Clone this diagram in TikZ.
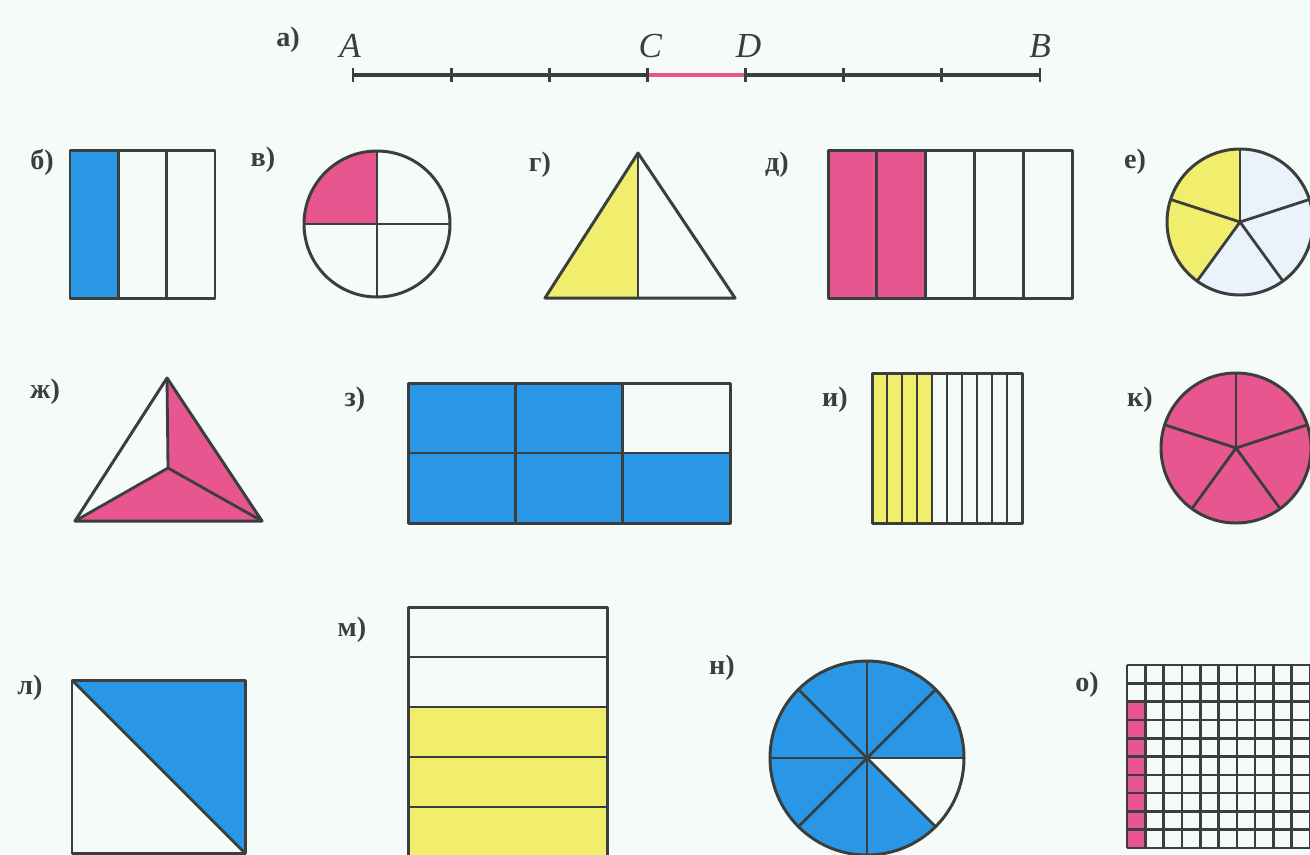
\documentclass[tikz,border=0pt]{standalone}
\usepackage{fontspec}
\setmainfont{Liberation Serif}
\usepackage{tikz}
\usetikzlibrary{calc}
\definecolor{paper}{HTML}{F4FBF8}
\definecolor{figblue}{HTML}{2A97E6}
\definecolor{figpink}{HTML}{E8568F}
\definecolor{figyellow}{HTML}{F1EE6E}
\definecolor{palecell}{HTML}{EAF2FB}
\definecolor{edge}{HTML}{3A3F3E}

\begin{document}
\begin{tikzpicture}[x=0.01cm, y=0.01cm,
  outline/.style={draw=edge, line width=0.85pt, line join=round},
  divide/.style={draw=edge, line width=0.8pt},
  gridline/.style={draw=edge, line width=0.75pt},
  tag/.style={font=\footnotesize\bfseries, text=edge, inner sep=0pt},
  letter/.style={font=\normalsize\itshape, text=edge, inner sep=0pt},
]
  \fill[paper] (0,0) rectangle (1310,-854);
  \clip (0,0) rectangle (1310,-854);

  % a) segment
  \node[tag] (ta) at (288,-40) {а)};
  \coordinate (A) at (353,-75);
  \coordinate (B) at (1040,-75);
  \coordinate (C) at ($(A)!3/7!(B)$);
  \coordinate (D) at ($(A)!4/7!(B)$);
  \draw[divide, line width=1.1pt] (A) -- (B);
  \draw[figpink, line width=1.3pt] (C) -- (D);
  \foreach \k in {0,...,7}
    \draw[divide] ($(A)!\k/7!(B)+(0,7)$) -- ($(A)!\k/7!(B)-(0,7)$);
  \node[letter] (lA) at (350,-46) {A};
  \node[letter] (lC) at ($(C)+(3,29)$) {C};
  \node[letter] (lD) at ($(D)+(3,29)$) {D};
  \node[letter] (lB) at (1040,-46) {B};

  % b)
  \node[tag] (tb) at (42,-162) {б)};
  \fill[figblue] (70,-150) rectangle (118.3,-298);
  \foreach \x in {118.3,166.7} \draw[divide] (\x,-150) -- (\x,-298);
  \draw[outline] (70,-150) rectangle (215,-298);

  % v)
  \node[tag] (tv) at (263,-160) {в)};
  \coordinate (vc) at (377,-224);
  \fill[figpink] (vc) -- ++(90:73) arc[start angle=90, end angle=180, radius=73] -- cycle;
  \draw[divide] ($(vc)+(-73,0)$) -- ($(vc)+(73,0)$);
  \draw[divide] ($(vc)+(0,73)$) -- ($(vc)+(0,-73)$);
  \draw[outline] (vc) circle[radius=73];

  % g)
  \node[tag] (tg) at (540,-165) {г)};
  \coordinate (gt) at (638,-153);
  \coordinate (gl) at (545,-298);
  \coordinate (gr) at (735,-298);
  \coordinate (gm) at (638,-298);
  \fill[figyellow] (gt) -- (gl) -- (gm) -- cycle;
  \draw[divide] (gt) -- (gm);
  \draw[outline] (gt) -- (gl) -- (gr) -- cycle;

  % d)
  \node[tag] (td) at (777,-165) {д)};
  \fill[figpink] (828,-150) rectangle (925.6,-298);
  \foreach \k in {1,...,4} \draw[divide] (828+48.8*\k,-150) -- (828+48.8*\k,-298);
  \draw[outline] (828,-150) rectangle (1072,-298);

  % e)
  \node[tag] (te) at (1135,-162) {е)};
  \coordinate (ec) at (1240,-222);
  \fill[palecell] (ec) circle[radius=73];
  \fill[figyellow] (ec) -- ++(90:73) arc[start angle=90, end angle=234, radius=73] -- cycle;
  \foreach \a in {90,162,234,306,18} \draw[divide] (ec) -- ++(\a:73);
  \draw[outline] (ec) circle[radius=73];

  % zh)
  \node[tag] (tzh) at (45,-392) {ж)};
  \coordinate (zt) at (167,-378);
  \coordinate (zl) at (75,-521);
  \coordinate (zr) at (262,-521);
  \coordinate (zc) at (168,-468);
  \fill[figpink] (zt) -- (zc) -- (zl) -- (zr) -- cycle;
  \foreach \p in {zt,zl,zr} \draw[divide] (zc) -- (\p);
  \draw[outline] (zt) -- (zl) -- (zr) -- cycle;

  % z)
  \node[tag] (tz) at (355,-400) {з)};
  \fill[figblue] (408,-383) -- (622.7,-383) -- (622.7,-453) -- (730,-453)
    -- (730,-523) -- (408,-523) -- cycle;
  \foreach \x in {515.3,622.7} \draw[divide] (\x,-383) -- (\x,-523);
  \draw[divide] (408,-453) -- (730,-453);
  \draw[outline] (408,-383) rectangle (730,-523);

  % i)
  \node[tag] (ti) at (835,-400) {и)};
  \fill[figyellow] (872,-373) rectangle (932,-523);
  \foreach \k in {1,...,9} \draw[divide] (872+15*\k,-373) -- (872+15*\k,-523);
  \draw[outline] (872,-373) rectangle (1022,-523);

  % k)
  \node[tag] (tk) at (1140,-400) {к)};
  \coordinate (kc) at (1236,-448);
  \fill[figpink] (kc) circle[radius=75];
  \foreach \a in {90,162,234,306,18} \draw[divide] (kc) -- ++(\a:75);
  \draw[outline] (kc) circle[radius=75];

  % l)
  \node[tag] (tl) at (30,-688) {л)};
  \fill[figblue] (72,-680) -- (245,-680) -- (245,-853) -- cycle;
  \draw[divide] (72,-680) -- (245,-853);
  \draw[outline] (72,-680) rectangle (245,-853);

  % m)
  \node[tag] (tm) at (352,-630) {м)};
  \fill[figyellow] (408,-707) rectangle (607,-857);
  \foreach \y in {657,707,757,807} \draw[divide] (408,-\y) -- (607,-\y);
  \draw[outline] (408,-607) rectangle (607,-857);

  % n)
  \node[tag] (tn) at (722,-668) {н)};
  \coordinate (nc) at (867,-758);
  \fill[figblue] (nc) -- ++(0:97) arc[start angle=0, end angle=315, radius=97] -- cycle;
  \foreach \a in {0,45,90,135} \draw[divide] ($(nc)+(\a:97)$) -- ($(nc)+(\a+180:97)$);
  \draw[outline] (nc) circle[radius=97];

  % o)
  \node[tag] (to) at (1087,-685) {о)};
  \fill[figpink] (1127,-701.6) rectangle (1145.3,-848);
  \foreach \k in {0,...,10} {
    \draw[gridline] (1127+18.3*\k,-665) -- (1127+18.3*\k,-848);
    \draw[gridline] (1127,-665-18.3*\k) -- (1310,-665-18.3*\k);
  }
\end{tikzpicture}
\end{document}
